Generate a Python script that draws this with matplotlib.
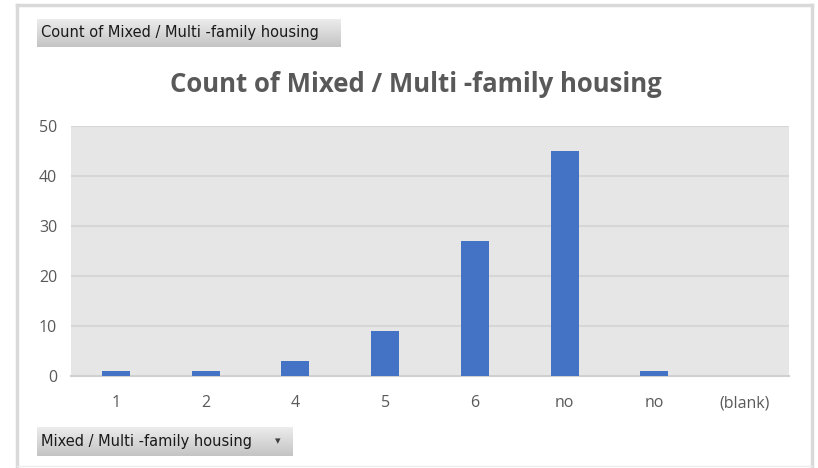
import numpy as np
import matplotlib.pyplot as plt
from matplotlib.lines import Line2D
from matplotlib.colors import LinearSegmentedColormap

# Data
categories = ['1', '2', '4', '5', '6', 'no', 'no', '(blank)']
counts = [1, 1, 3, 9, 27, 45, 1, 0]
y_ticks = [0, 10, 20, 30, 40, 50]

W, H = 818, 468
fig = plt.figure(figsize=(W / 100, H / 100), dpi=100)
fig.patch.set_facecolor('white')

# outer chart frame
frame_col = '#d9d9d9'
fig.add_artist(Line2D([17 / W, 17 / W], [0, 1 - 5 / H], color=frame_col, lw=2.5, transform=fig.transFigure))
fig.add_artist(Line2D([17 / W, 812 / W], [1 - 5 / H, 1 - 5 / H], color=frame_col, lw=2.5, transform=fig.transFigure))
fig.add_artist(Line2D([812 / W, 812 / W], [0, 1 - 5 / H], color=frame_col, lw=2.5, transform=fig.transFigure))
fig.add_artist(Line2D([17 / W, 812 / W], [1 - 466 / H, 1 - 466 / H], color='#ececec', lw=1, transform=fig.transFigure))

# main plot
ax = fig.add_axes([71 / W, 1 - 376 / H, (789 - 71) / W, (376 - 126) / H])
ax.set_facecolor('#e6e6e6')
x = np.arange(len(categories))
ax.bar(x, counts, width=0.31, color='#4472c4', zorder=3)
ax.set_xlim(-0.5, len(categories) - 0.5)
ax.set_ylim(0, 50)
ax.set_yticks(y_ticks)
ax.set_xticks(x)
ax.set_xticklabels(categories)
ax.yaxis.grid(True, color='#d6d6d6', lw=1.5, zorder=1)
ax.set_axisbelow(True)
for s in ['top', 'right', 'left']:
    ax.spines[s].set_visible(False)
ax.spines['bottom'].set_color('#d0d0d0')
ax.spines['bottom'].set_linewidth(1.5)
ax.tick_params(length=0, labelsize=11.5, colors='#595959')
for lab in ax.get_xticklabels() + ax.get_yticklabels():
    lab.set_fontfamily('Open Sans')
ax.tick_params(axis='x', pad=14)
ax.tick_params(axis='y', pad=10)

fig.text(416 / W, 1 - 85 / H, 'Count of Mixed / Multi -family housing', ha='center', va='center',
         fontsize=18.5, fontweight='bold', color='#595959', family='Open Sans')

# pivot-field buttons
grad = np.linspace(0, 1, 50).reshape(-1, 1)
cmap = LinearSegmentedColormap.from_list('g', ['#ececec', '#c4c4c4'])


def button(x0, y0, x1, y1, label, arrow=False):
    bax = fig.add_axes([x0 / W, 1 - y1 / H, (x1 - x0) / W, (y1 - y0) / H])
    bax.imshow(grad, aspect='auto', cmap=cmap, extent=[0, 1, 0, 1], origin='upper')
    bax.set_xlim(0, 1)
    bax.set_ylim(0, 1)
    bax.axis('off')
    fig.text((x0 + 4) / W, 1 - (y0 + y1) / 2 / H, label, ha='left', va='center',
             fontsize=10.5, color='#1a1a1a', family='DejaVu Sans')
    if arrow:
        fig.text((x1 - 15) / W, 1 - (y0 + y1) / 2 / H, '\u25be', ha='center', va='center',
                 fontsize=8, color='#404040')


button(37, 19, 341, 47, 'Count of Mixed / Multi -family housing')
button(37, 427, 293, 456, 'Mixed / Multi -family housing', arrow=True)

fig.savefig('out.png', dpi=100)
